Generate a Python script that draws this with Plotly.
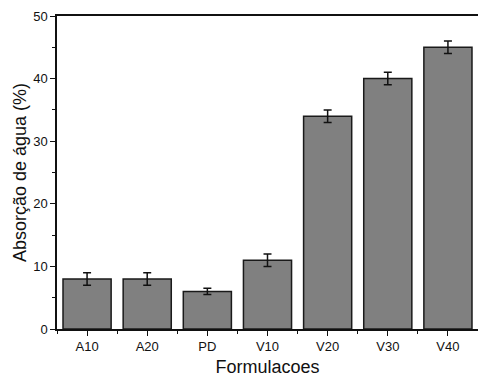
import plotly.graph_objects as go

categories = ["A10", "A20", "PD", "V10", "V20", "V30", "V40"]
absorcao = [8, 8, 6, 11, 34, 40, 45]
erro = [1, 1, 0.5, 1, 1, 1, 1]
y_ticks = [0, 10, 20, 30, 40, 50]

positions = list(range(len(categories)))

fig = go.Figure(
    go.Bar(
        x=positions,
        y=absorcao,
        width=0.8,
        marker=dict(color="#808080", line=dict(color="#1a1a1a", width=1.5)),
        error_y=dict(type="data", array=erro, visible=True,
                     color="#111111", thickness=1.5, width=4),
    )
)

font_family = "Liberation Sans"

fig.update_layout(
    width=478,
    height=377,
    margin=dict(l=57, r=0, t=16, b=48),
    paper_bgcolor="white",
    plot_bgcolor="white",
    showlegend=False,
    font=dict(family=font_family, color="#111111"),
    bargap=0.2,
)

fig.update_xaxes(
    range=[-0.5, 6.5],
    tickmode="array",
    tickvals=positions,
    ticktext=categories,
    ticks="outside",
    ticklen=5,
    tickwidth=1.2,
    tickcolor="#111111",
    minor=dict(tickmode="linear", tick0=0.5, dtick=1, ticks="outside",
               ticklen=3, tickwidth=1, tickcolor="#111111"),
    showline=True,
    linecolor="#111111",
    linewidth=1.5,
    mirror=True,
    showgrid=False,
    zeroline=False,
    tickfont=dict(size=13, family=font_family),
    title=dict(text="Formulacoes", font=dict(size=18, family=font_family), standoff=9),
)

fig.update_yaxes(
    range=[0, 50],
    tickmode="array",
    tickvals=y_ticks,
    ticks="outside",
    ticklen=5,
    tickwidth=1.2,
    tickcolor="#111111",
    minor=dict(tickmode="linear", tick0=5, dtick=10, ticks="outside",
               ticklen=3, tickwidth=1, tickcolor="#111111"),
    showline=True,
    linecolor="#111111",
    linewidth=1.5,
    showgrid=False,
    zeroline=False,
    tickfont=dict(size=13, family=font_family),
    title=dict(text="Absorção de água (%)", font=dict(size=18, family=font_family), standoff=2),
)

fig.write_html("out.html")
